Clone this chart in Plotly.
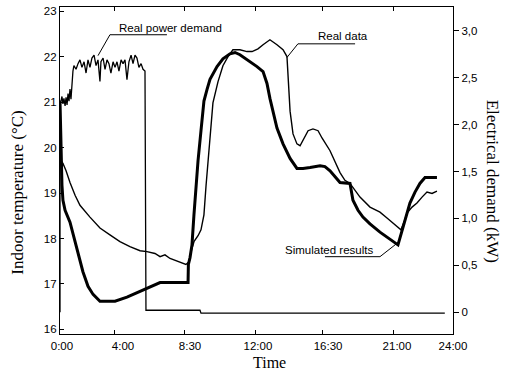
import plotly.graph_objects as go

# ---- data (x in axis time units, left axis in degC, right axis in kW) ----
sim_t = [0.00, 0.06, 0.12, 0.18, 0.31, 0.61, 1.04, 1.40, 1.71, 2.02, 2.44, 3.36, 4.09, 5.19, 6.11,
         7.82, 7.84, 7.94, 8.06, 8.18, 8.31, 8.43, 8.61, 8.79, 8.98, 9.16, 9.59, 9.95, 10.38, 10.69,
         10.99, 11.42, 11.73, 12.03, 12.40, 12.64, 12.82, 13.01, 13.25, 13.62, 14.05, 14.47, 14.84,
         15.27, 15.88, 16.18, 16.49, 17.10, 17.71, 17.89, 18.20, 18.50, 18.93, 19.54, 20.15, 20.64,
         20.95, 21.37, 21.68, 21.98, 22.29, 23.02]
sim_temp = [21.02, 19.93, 19.17, 18.84, 18.62, 18.36, 17.80, 17.27, 16.95, 16.77, 16.62, 16.62, 16.71,
            16.88, 17.03, 17.03, 17.43, 17.58, 17.86, 18.52, 19.17, 19.71, 20.37, 21.02, 21.28, 21.50,
            21.78, 21.95, 22.06, 22.09, 22.04, 21.93, 21.87, 21.78, 21.67, 21.41, 21.08, 20.80, 20.43,
            20.08, 19.76, 19.54, 19.54, 19.56, 19.60, 19.58, 19.49, 19.23, 19.21, 18.84, 18.62, 18.47,
            18.32, 18.14, 17.99, 17.86, 18.25, 18.78, 19.02, 19.21, 19.34, 19.34]

real_t = [0.06, 0.18, 0.37, 0.61, 0.92, 1.22, 1.83, 2.44, 3.05, 3.66, 4.27, 4.89, 5.31, 5.80, 6.11,
          6.41, 6.72, 7.33, 7.69, 7.88, 8.00, 8.18, 8.43, 8.61, 8.79, 8.92, 9.04, 9.16, 9.34, 9.65,
          9.95, 10.26, 10.56, 10.99, 11.42, 11.73, 12.09, 12.40, 12.82, 13.25, 13.62, 13.86, 13.92,
          14.05, 14.23, 14.47, 14.66, 14.84, 15.15, 15.45, 15.76, 16.00, 16.49, 17.10, 17.40, 17.71,
          18.32, 18.93, 19.54, 19.97, 20.46, 20.82, 21.01, 21.19, 21.50, 21.80, 22.11, 22.41, 22.72,
          23.02]
real_temp = [19.71, 19.65, 19.49, 19.23, 18.95, 18.73, 18.47, 18.23, 18.08, 17.93, 17.82, 17.73, 17.71,
             17.67, 17.60, 17.64, 17.56, 17.47, 17.43, 17.49, 17.71, 17.93, 18.06, 18.19, 18.52, 19.17,
             19.71, 20.26, 20.98, 21.45, 21.80, 22.00, 22.15, 22.15, 22.11, 22.11, 22.17, 22.26, 22.37,
             22.26, 22.15, 22.00, 21.56, 20.80, 20.30, 20.08, 20.04, 20.15, 20.37, 20.41, 20.37, 20.21,
             19.93, 19.45, 19.28, 19.21, 18.91, 18.69, 18.58, 18.45, 18.30, 18.19, 18.36, 18.56, 18.69,
             18.78, 18.91, 19.02, 18.99, 19.04]

power_t = [0.00, 0.00, 0.06, 0.12, 0.18, 0.24, 0.31, 0.37, 0.43, 0.49, 0.55, 0.61, 0.67, 0.73, 0.79,
           0.85, 0.98, 1.10, 1.22, 1.34, 1.47, 1.59, 1.71, 1.83, 1.95, 2.08, 2.20, 2.32, 2.44, 2.50,
           2.63, 2.75, 2.87, 2.99, 3.11, 3.24, 3.36, 3.48, 3.60, 3.73, 3.85, 3.97, 4.09, 4.21, 4.34,
           4.46, 4.58, 4.70, 4.82, 4.95, 5.07, 5.19, 5.25, 8.55, 8.61, 23.50]
power_kw = [0.00, 2.25, 2.25, 2.30, 2.22, 2.28, 2.20, 2.29, 2.21, 2.33, 2.25, 2.38, 2.27, 2.46, 2.57,
            2.63, 2.59, 2.65, 2.69, 2.61, 2.67, 2.55, 2.69, 2.61, 2.71, 2.74, 2.63, 2.69, 2.46, 2.67,
            2.71, 2.59, 2.69, 2.65, 2.55, 2.67, 2.61, 2.67, 2.57, 2.69, 2.65, 2.69, 2.48, 2.67, 2.74,
            2.65, 2.74, 2.71, 2.61, 2.65, 2.59, 2.57, 0.02, 0.02, -0.01, -0.01]

x_labels = ["0:00", "4:00", "8:30", "12:00", "16:30", "21:00", "24:00"]
x_label_pos = [0.12, 3.85, 7.94, 12.09, 16.37, 20.58, 24.0]
x_tick_marks = [3.30, 7.63, 11.91, 16.06, 20.34]
temp_ticks = [16, 17, 18, 19, 20, 21, 22, 23]
power_ticks = [0, 0.5, 1.0, 1.5, 2.0, 2.5, 3.0]
power_tick_text = ["0", "0,5", "1,0", "1,5", "2,0", "2,5", "3,0"]

SANS = "Liberation Sans, Arial, sans-serif"
SERIF = "Liberation Serif, Times New Roman, serif"
TICKFONT = dict(family=SANS, size=11.5, color="black")

fig = go.Figure()
fig.add_trace(go.Scatter(x=power_t, y=power_kw, mode="lines", yaxis="y2", xaxis="x",
                         line=dict(color="black", width=1.3), name="Real power demand"))
fig.add_trace(go.Scatter(x=real_t, y=real_temp, mode="lines", xaxis="x", yaxis="y",
                         line=dict(color="black", width=1.4), name="Real data"))
fig.add_trace(go.Scatter(x=sim_t, y=sim_temp, mode="lines", xaxis="x2", yaxis="y",
                         line=dict(color="black", width=3), name="Simulated results"))

xr = [0, 24]
fig.update_layout(
    width=507, height=375,
    margin=dict(l=60, r=54, t=5, b=41),
    paper_bgcolor="white", plot_bgcolor="white",
    showlegend=False,
    font=dict(family=SANS, size=11.5, color="black"),
    xaxis=dict(range=xr, showline=True, linecolor="black", linewidth=1.3, mirror="ticks",
               ticks="inside", ticklen=4, tickwidth=1, tickcolor="black",
               tickvals=x_tick_marks, showticklabels=False, showgrid=False, zeroline=False),
    xaxis2=dict(range=xr, overlaying="x", anchor="y", side="bottom", showline=False,
                ticks="outside", ticklen=1, tickcolor="rgba(0,0,0,0)",
                tickvals=x_label_pos, ticktext=x_labels, showgrid=False, zeroline=False,
                tickfont=TICKFONT),
    yaxis=dict(range=[15.90, 23.09], showline=True, linecolor="black", linewidth=1.3,
               ticks="inside", ticklen=4, tickcolor="black", tickvals=temp_ticks,
               showgrid=False, zeroline=False, tickfont=TICKFONT),
    yaxis2=dict(range=[-0.233, 3.254], overlaying="y", side="right", anchor="x", showline=True,
                linecolor="black", linewidth=1.3, ticks="outside", ticklen=5, tickcolor="black",
                tickvals=power_ticks, ticktext=power_tick_text, showgrid=False, zeroline=False,
                tickfont=TICKFONT),
)

# axis titles
fig.add_annotation(text="Indoor temperature (°C)", xref="paper", yref="paper", x=-0.107, y=0.432,
                   xanchor="center", yanchor="middle", textangle=-90, showarrow=False,
                   font=dict(family=SERIF, size=17, color="black"))
fig.add_annotation(text="Electrical demand (kW)", xref="paper", yref="paper", x=1.10, y=0.468,
                   xanchor="center", yanchor="middle", textangle=90, showarrow=False,
                   font=dict(family=SERIF, size=17, color="black"))
fig.add_annotation(text="Time", xref="paper", yref="paper", x=0.534, y=-0.088,
                   xanchor="center", yanchor="middle", showarrow=False,
                   font=dict(family=SERIF, size=16, color="black"))

# labels with leader lines
labels = [("Real power demand", 6.72, 22.63), ("Real data", 17.28, 22.46), ("Simulated results", 16.43, 17.75)]
for txt, lx, ly in labels:
    fig.add_annotation(text=txt, x=lx, y=ly, xref="x", yref="y", showarrow=False,
                       xanchor="center", yanchor="middle", font=TICKFONT)

leaders = [
    [(2.32, 22.02), (3.05, 22.48), (6.53, 22.48)],
    [(13.86, 21.98), (14.53, 22.28), (18.02, 22.28)],
    [(16.18, 17.60), (19.54, 17.60), (20.64, 17.91)],
]
for pts in leaders:
    for (x0, y0), (x1, y1) in zip(pts[:-1], pts[1:]):
        fig.add_shape(type="line", xref="x", yref="y", x0=x0, y0=y0, x1=x1, y1=y1,
                      line=dict(color="black", width=1))

fig.write_html("out.html")
